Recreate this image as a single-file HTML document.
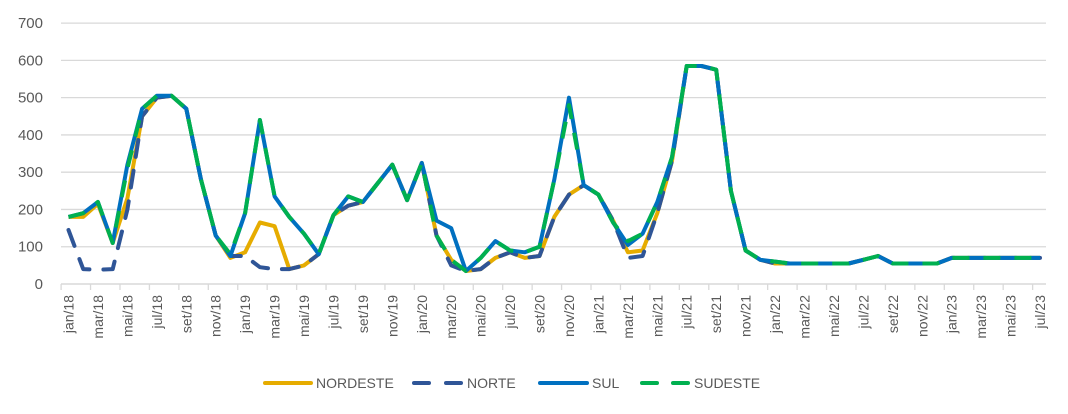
<!DOCTYPE html>
<html><head><meta charset="utf-8"><style>
html,body{margin:0;padding:0;background:#fff;}
svg{display:block;font-family:"Liberation Sans",Arial,sans-serif;}
</style></head><body>
<svg id="c" width="1068" height="414" xmlns="http://www.w3.org/2000/svg">
<g id="grid" stroke="#d9d9d9" stroke-width="1.3"></g>
<g id="yl" fill="#595959" font-size="15" text-anchor="end"></g>
<g id="xl" fill="#595959" font-size="14"></g>
<g id="series" fill="none" stroke-width="4" stroke-linejoin="round"></g>
<g font-size="14" fill="#595959">
<line x1="265" y1="383" x2="311" y2="383" stroke="#E6AC00" stroke-width="4" stroke-linecap="round"/>
<text x="316" y="388">NORDESTE</text>
<line x1="414" y1="383" x2="429" y2="383" stroke="#2F5597" stroke-width="4" stroke-linecap="round"/>
<line x1="446" y1="383" x2="461" y2="383" stroke="#2F5597" stroke-width="4" stroke-linecap="round"/>
<text x="467" y="388">NORTE</text>
<line x1="540" y1="383" x2="587" y2="383" stroke="#0070C0" stroke-width="4" stroke-linecap="round"/>
<text x="592" y="388">SUL</text>
<line x1="642" y1="383" x2="657" y2="383" stroke="#00B050" stroke-width="4" stroke-linecap="round"/>
<line x1="673" y1="383" x2="688" y2="383" stroke="#00B050" stroke-width="4" stroke-linecap="round"/>
<text x="694" y="388">SUDESTE</text>
</g>
</svg>
<script>
var NS="http://www.w3.org/2000/svg";
function el(p,t,a,txt){var e=document.createElementNS(NS,t);for(var k in a)e.setAttribute(k,a[k]);if(txt!=null)e.textContent=txt;document.getElementById(p).appendChild(e);return e;}
function Y(v){return 284-v*0.3727;}
function X(i){return 68.5+14.72*i;}
for(var v=0;v<=700;v+=100){
 if(v>0)el("grid","line",{x1:61,x2:1046,y1:Y(v),y2:Y(v)});
 el("yl","text",{x:43,y:Y(v)+5},String(v));
}
el("grid","line",{x1:61,x2:1046,y1:284,y2:284,stroke:"#d0d0d0"});
var m=["jan","mar","mai","jul","set","nov"];
for(var k=0;k<=33;k++){
 var tx=X(2*k)-7.4;
 el("grid","line",{x1:tx,x2:tx,y1:284,y2:290});
 var lab=m[k%6]+"/"+(18+Math.floor(k/6));
 var cx=X(2*k)+5;
 el("xl","text",{x:0,y:0,"text-anchor":"end",transform:"translate("+cx+",295) rotate(-90)"},lab);
}
var sul=[180,190,220,110,320,470,505,505,470,280,130,75,190,440,235,180,135,80,185,235,220,270,320,225,325,170,150,35,70,115,90,85,100,280,500,265,240,165,105,135,220,340,585,585,575,250,90,65,60,55,55,55,55,55,65,75,55,55,55,55,70,70,70,70,70,70,70];
var sud=sul.slice();sud[4]=310;sud[11]=80;sud[25]=130;sud[26]=65;sud[34]=480;sud[38]=115;
var nor=sul.slice();
var nd={0:180,1:180,2:215,4:230,5:450,6:500,11:70,12:85,13:165,14:155,15:40,16:50,19:210,25:130,26:65,28:40,29:70,30:85,31:70,32:75,33:180,34:240,37:170,38:85,39:90,40:190,41:330,48:55};
for(var k in nd)nor[k]=nd[k];
var nt=nor.slice();
var ntd={0:145,1:40,2:38,3:40,4:200,5:450,11:75,12:75,13:45,14:40,15:40,16:50,25:130,26:50,27:35,28:40,38:70,39:75,40:190};
for(var k in ntd)nt[k]=ntd[k];
function pts(a){return a.map(function(v,i){return X(i).toFixed(1)+","+Y(v).toFixed(1)}).join(" ");}
el("series","polyline",{points:pts(nor),stroke:"#E6AC00"});
el("series","polyline",{points:pts(nt),stroke:"#2F5597","stroke-dasharray":"17 14","stroke-linecap":"round"});
el("series","polyline",{points:pts(sul),stroke:"#0070C0"});
el("series","polyline",{points:pts(sud),stroke:"#00B050","stroke-dasharray":"17 14"});
</script>
</body></html>
